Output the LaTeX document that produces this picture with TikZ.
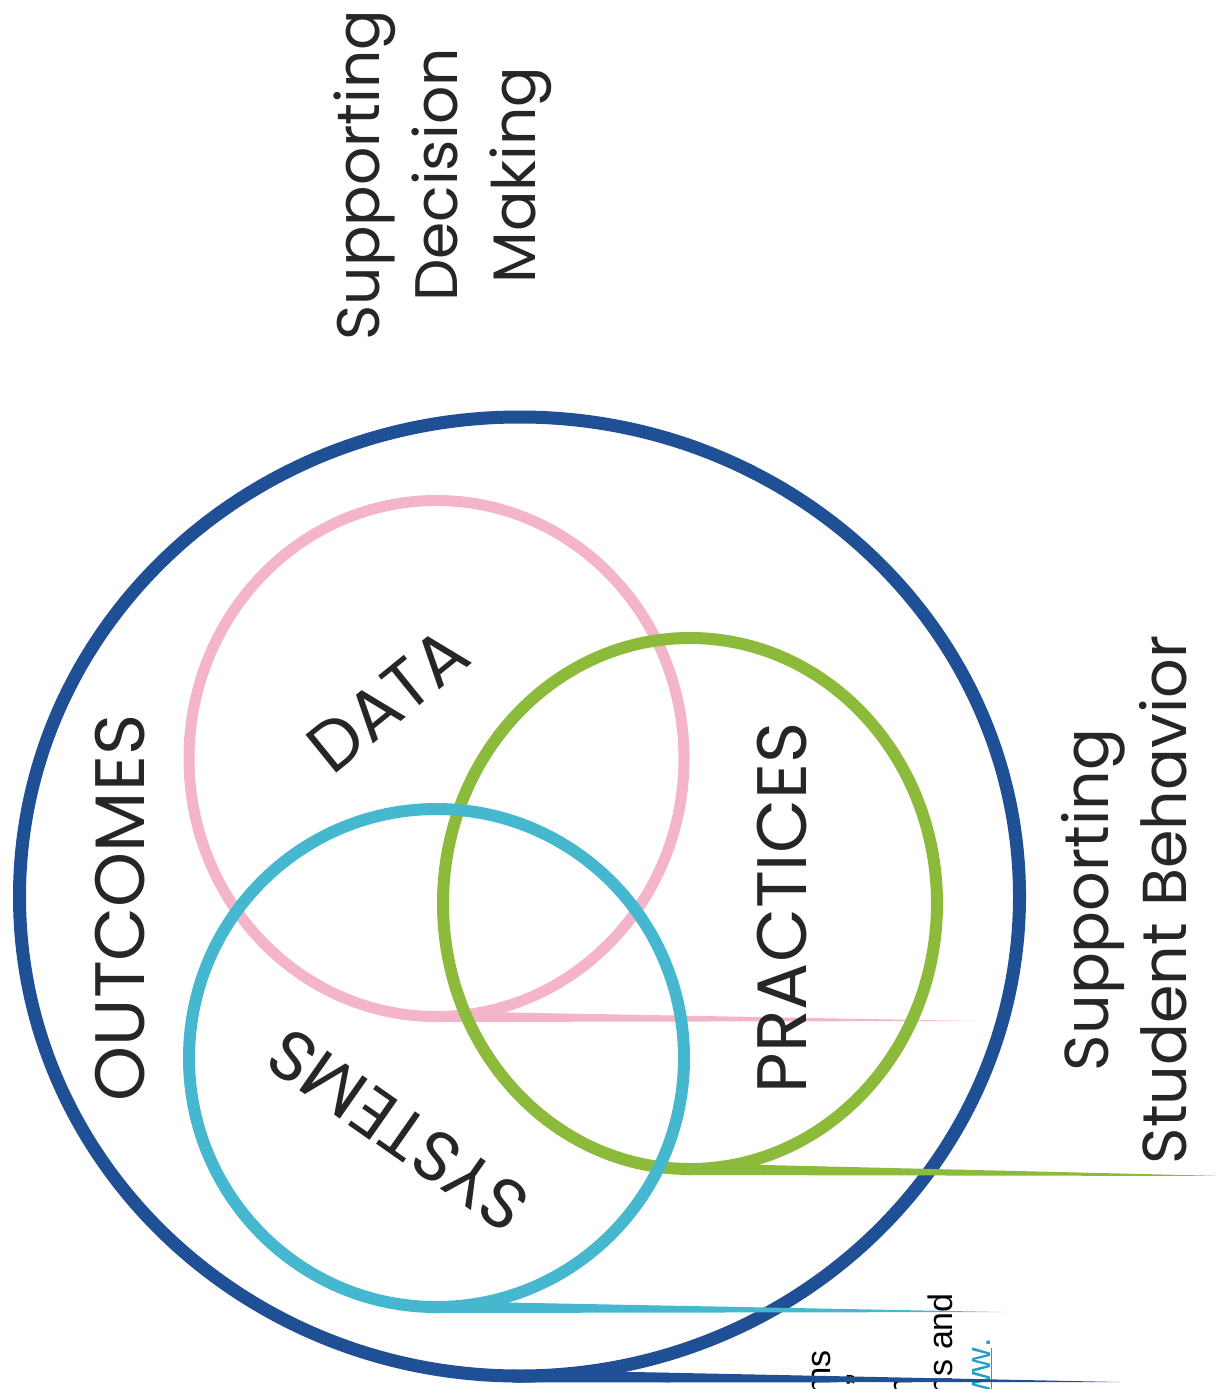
\documentclass[tikz,border=0pt]{standalone}
\usepackage{fontspec}
\setmainfont{Poppins}
\newfontfamily\notefont{Liberation Sans}
\usetikzlibrary{calc}
\definecolor{ringblue}{HTML}{1F4F94}
\definecolor{ringpink}{HTML}{F4B4C9}
\definecolor{ringgreen}{HTML}{8CBB3C}
\definecolor{ringcyan}{HTML}{45B8CF}
\definecolor{linkcyan}{HTML}{1D9FC9}
\definecolor{ink}{HTML}{262626}

% tapered tail leaving the bottom of a ring:
% #1 colour, #2 cx, #3 cy, #4 rx, #5 ry, #6 stroke width, #7 tip x, #8 tip y
\newcommand\ringtail[8]{%
  \coordinate (tailtop) at (#2-8,#3+#5-#6/2);
  \coordinate (tailbot) at (#2-8,#3+#5+#6/2);
  \coordinate (tailtip) at (#7,#8);
  \fill[#1] (tailtop) -- (tailtip) -- (tailbot) -- cycle;
  % concave joint between the ring and the upper edge of the tail
  \fill[#1] (#2,#3+#5) -- ($(#2,#3)+(72:#4 and #5)$)
    .. controls ($(#2,#3)+(84:#4 and #5)$)
    .. ($(tailtop)!{(0.3*#4+8)/(#7-#2+8)}!(tailtip)$)
    -- ($(tailbot)!{(0.3*#4+8)/(#7-#2+8)}!(tailtip)$) -- cycle;
}

\begin{document}
\begin{tikzpicture}[x=1pt,y=-1pt,
  word/.style={font=\fontsize{70}{70}\selectfont, text=ink, inner sep=0pt},
  caption/.style={font=\fontsize{60}{78}\selectfont, text=ink, align=center,
    inner sep=0pt, rotate=90},
  note/.style={font=\notefont\fontsize{34}{34}\selectfont, inner sep=0pt,
    rotate=90, anchor=base east}]
\useasboundingbox (0,0) rectangle (1217,1389);

% cut-off lines of the neighbouring column
\begin{scope}
  \clip (0,0) rectangle (1217,1389);
  \node[note] (n1) at (830,1350) {ms};
  \node[note] (n2) at (870,1374) {”};
  \node[note] (n3) at (912,1377) {h};
  \node[note] (n4) at (952,1293) {ns and};
  \node[note, text=linkcyan] (n5) at (990,1338) {\underline{ww}.};
\end{scope}

% outer ring: outcomes
\draw[ringblue, line width=13pt] (519.5,896.5) ellipse [x radius=500, y radius=479.5];
\ringtail{ringblue}{519.5}{896.5}{500}{479.5}{13}{1120}{1382}

% data
\draw[ringpink, line width=11pt] (436.5,758.5) ellipse [x radius=247.5, y radius=258];
\ringtail{ringpink}{436.5}{758.5}{247.5}{258}{11}{975}{1021}

% practices
\draw[ringgreen, line width=12pt] (690,903.5) ellipse [x radius=247, y radius=265.5];
\ringtail{ringgreen}{690}{903.5}{247}{265.5}{12}{1225}{1176}

% systems
\draw[ringcyan, line width=12pt] (436.5,1058) ellipse [x radius=247.5, y radius=249];
\ringtail{ringcyan}{436.5}{1058}{247.5}{249}{12}{1002}{1312}

% labels
\node[word, rotate=90] (outcomes) at (120,908) {OUTCOMES};
\node[word, rotate=39] (data) at (388,700) {DATA};
\node[word, rotate=90] (practices) at (782,908) {PRACTICES};
\node[word, rotate=145] (systems) at (398,1130) {SYSTEMS};

\node[caption] (decision) at (443,175) {Supporting\\Decision\\Making};
\node[caption, font=\fontsize{62}{78}\selectfont] (behavior) at (1124,900)
  {Supporting\\Student Behavior};
\end{tikzpicture}
\end{document}
